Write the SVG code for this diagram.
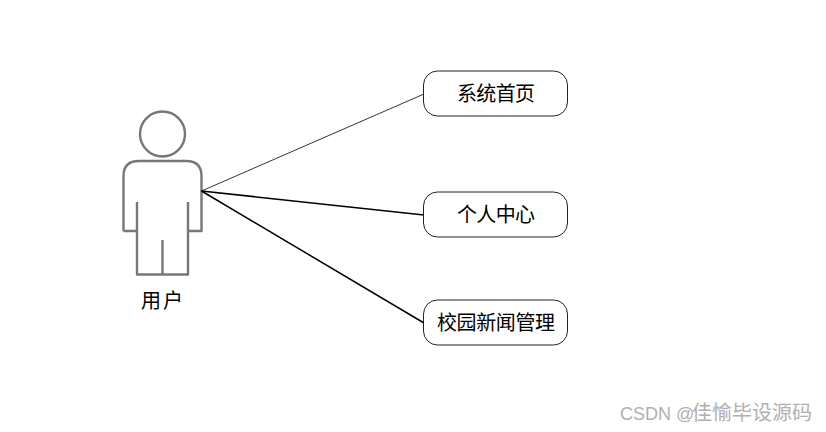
<svg xmlns="http://www.w3.org/2000/svg" width="826" height="432" viewBox="0 0 826 432">
<style>
text{font-family:"Liberation Sans","Noto Sans CJK SC",sans-serif;fill:#000}
.l{font-size:20px}
.b{fill:#fff;stroke:#222;stroke-width:1}
.a{fill:none;stroke:#777;stroke-width:2.4;stroke-linejoin:round}
.c{fill:none;stroke:#000}
</style>
<rect width="826" height="432" fill="#fff"/>
<g id="actor">
<circle class="a" cx="162.500" cy="134" r="22.500"/>
<path class="a" d="M123.500 231V176Q123.500 161 139 161H186Q201.500 161 201.500 176V231H188M137 202V274.500H188V202M137 231H123.500M162.500 240V274.500"/>
<text x="141" y="308" class="l" textLength="42">用户</text>
</g>
<g id="connectors">
<path class="c" stroke-width="0.800" d="M201.500 191L424 94"/>
<path class="c" stroke-width="1.500" d="M201.500 191L424 215"/>
<path class="c" stroke-width="1.500" d="M201.500 191L424 323"/>
</g>
<g id="node1"><rect class="b" x="423.500" y="71" width="144" height="45" rx="14"/><text x="457" y="101" class="l" textLength="78">系统首页</text></g>
<g id="node2"><rect class="b" x="423.500" y="192" width="144" height="45" rx="14"/><text x="457" y="222" class="l" textLength="78">个人中心</text></g>
<g id="node3"><rect class="b" x="423.500" y="300" width="144" height="45" rx="14"/><text x="437" y="330" class="l" textLength="118">校园新闻管理</text></g>
<text id="watermark" x="620" y="420" font-size="18" style="fill:#b0b0b0">CSDN @<tspan x="692" font-size="20">佳愉毕设源码</tspan></text>
</svg>
